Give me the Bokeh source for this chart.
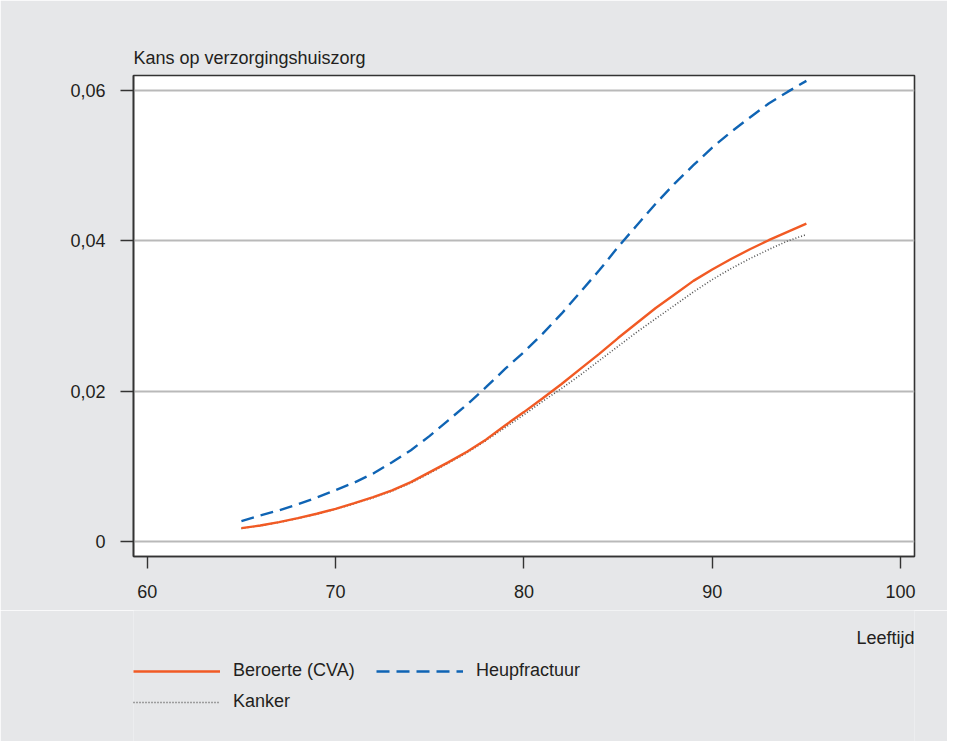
from bokeh.plotting import figure
from bokeh.models import Range1d, FixedTicker, Legend, LegendItem, Label
from bokeh.layouts import column
from bokeh.embed import file_html
from bokeh.resources import INLINE

# ---- data ----
ages = [65, 66, 67, 68, 69, 70, 71, 72, 73, 74, 75, 76, 77, 78, 79, 80,
        81, 82, 83, 84, 85, 86, 87, 88, 89, 90, 91, 92, 93, 94, 95]
beroerte = [0.00184, 0.00219, 0.00264, 0.00317, 0.00375, 0.00441, 0.00516, 0.00596,
            0.00685, 0.00795, 0.00928, 0.01061, 0.01203, 0.01363, 0.01549, 0.01726,
            0.0191, 0.0210, 0.0230, 0.0250, 0.0271, 0.0291, 0.0311, 0.0329, 0.0347,
            0.0362, 0.0376, 0.0389, 0.0401, 0.0412, 0.0423]
heupfractuur = [0.00277, 0.00352, 0.00421, 0.0050, 0.0059, 0.0069, 0.0079, 0.0091,
                0.0106, 0.0122, 0.0141, 0.0162, 0.0183, 0.0206, 0.0230, 0.02524,
                0.02768, 0.03034, 0.03322, 0.0361, 0.0392, 0.04209, 0.04497, 0.04763,
                0.05007, 0.05242, 0.0545, 0.05641, 0.05827, 0.05981, 0.06128]
kanker = [0.00180, 0.00216, 0.00261, 0.00313, 0.00370, 0.00436, 0.00510, 0.00589,
          0.00677, 0.00785, 0.00915, 0.0105, 0.0119, 0.0135, 0.0152, 0.0169,
          0.0187, 0.0204, 0.0222, 0.0241, 0.0260, 0.0279, 0.02968, 0.03145, 0.03322,
          0.03487, 0.03633, 0.03766, 0.03886, 0.0400, 0.04085]

x_ticks = [60, 70, 80, 90, 100]
y_ticks = [0, 0.02, 0.04, 0.06]
y_tick_labels = ["0", "0,02", "0,04", "0,06"]

title_text = "Kans op verzorgingshuiszorg"
x_label = "Leeftijd"
series_names = ["Beroerte (CVA)", "Heupfractuur", "Kanker"]

FONT = "Liberation Sans"
FS = "18px"
BG = "#e6e7e9"
TXT = "#231f20"

STYLE_KAN = dict(line_color="#555555", line_width=1.6, line_dash="1 2")
STYLE_CVA = dict(line_color="#f15a24", line_width=2.4)
STYLE_HEUP = dict(line_color="#0f64b4", line_width=2.4, line_dash="13 7")

# ---------------- main chart ----------------
p = figure(width=947, height=610, output_backend="svg", toolbar_location=None,
           x_range=Range1d(59.27, 100.74), y_range=Range1d(-0.00193, 0.06199),
           min_border_left=133, min_border_right=33, min_border_top=75, min_border_bottom=54)

p.background_fill_color = "white"
p.border_fill_color = BG
p.outline_line_color = "#333333"
p.outline_line_width = 1.6

p.title.text = title_text
p.title.text_font = FONT
p.title.text_font_size = FS
p.title.text_font_style = "normal"
p.title.text_color = TXT
p.title.align = "left"
p.title.standoff = 16

p.xgrid.grid_line_color = None
p.ygrid.ticker = FixedTicker(ticks=y_ticks)
p.ygrid.grid_line_color = "#b9b9b9"
p.ygrid.grid_line_width = 1.8

xa = p.xaxis[0]
xa.ticker = FixedTicker(ticks=x_ticks)
xa.major_tick_out = 12
xa.major_tick_in = 0
xa.major_label_standoff = 16

ya = p.yaxis[0]
ya.ticker = FixedTicker(ticks=y_ticks)
ya.major_label_overrides = {t: s for t, s in zip(y_ticks, y_tick_labels)}
ya.major_tick_out = 13
ya.major_tick_in = 0
ya.major_label_standoff = 15

for ax in (xa, ya):
    ax.minor_tick_line_color = None
    ax.axis_line_color = "#333333"
    ax.axis_line_width = 1.6
    ax.major_tick_line_color = "#333333"
    ax.major_tick_line_width = 1.4
    ax.major_label_text_font = FONT
    ax.major_label_text_font_size = FS
    ax.major_label_text_color = TXT

p.line(ages, kanker, **STYLE_KAN)
p.line(ages, beroerte, **STYLE_CVA)
p.line(ages, heupfractuur, **STYLE_HEUP)

# ---------------- strip below: x-axis title and legend ----------------
leg = figure(width=947, height=131, output_backend="svg", toolbar_location=None,
             x_axis_type=None, y_axis_type=None,
             x_range=Range1d(59.27, 100.74), y_range=Range1d(1, 2),
             min_border=0)
leg.background_fill_color = BG
leg.border_fill_color = BG
leg.outline_line_color = None
leg.grid.visible = False

leg.add_layout(Label(x=781, y=104, x_units="screen", y_units="screen", text=x_label,
                     text_align="right", text_baseline="alphabetic",
                     text_font=FONT, text_font_size=FS, text_color=TXT))

# same series, outside this strip's visible range: only their legend glyphs show
l_kan = leg.line(ages, kanker, **STYLE_KAN)
l_cva = leg.line(ages, beroerte, **STYLE_CVA)
l_heup = leg.line(ages, heupfractuur, **STYLE_HEUP)

legend = Legend(items=[LegendItem(label=series_names[0], renderers=[l_cva]),
                       LegendItem(label=series_names[1], renderers=[l_heup]),
                       LegendItem(label=series_names[2], renderers=[l_kan])],
                orientation="horizontal", ncols=2, location=(0, 29),
                glyph_width=87, glyph_height=20, label_standoff=13, spacing=10,
                padding=0, margin=0, border_line_color=None, background_fill_alpha=0,
                label_width=133, label_height=20,
                label_text_font=FONT, label_text_font_size=FS, label_text_color=TXT)
leg.add_layout(legend, "center")

layout = column(p, leg, spacing=0)
open("out.html", "w").write(file_html(layout, INLINE))
